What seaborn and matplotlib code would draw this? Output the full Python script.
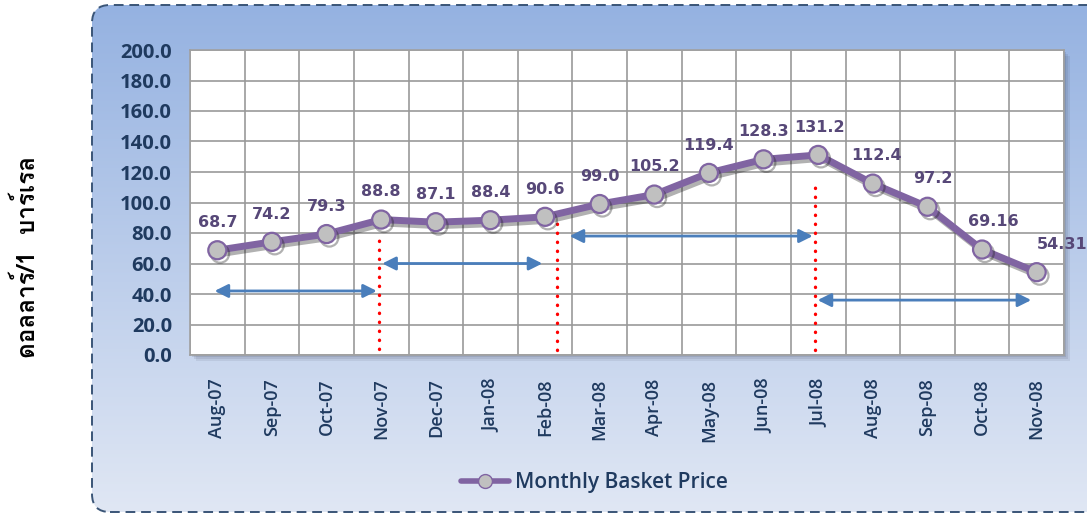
import numpy as np
import pandas as pd
import matplotlib
matplotlib.use("Agg")
import matplotlib.pyplot as plt
import matplotlib.patheffects as pe
from matplotlib import font_manager
from matplotlib.ft2font import FT2Font
from matplotlib.patches import FancyBboxPatch, Rectangle
from matplotlib.lines import Line2D
import seaborn as sns

months = ["Aug-07", "Sep-07", "Oct-07", "Nov-07", "Dec-07", "Jan-08", "Feb-08", "Mar-08",
          "Apr-08", "May-08", "Jun-08", "Jul-08", "Aug-08", "Sep-08", "Oct-08", "Nov-08"]
prices = [68.7, 74.2, 79.3, 88.8, 87.1, 88.4, 90.6, 99.0,
          105.2, 119.4, 128.3, 131.2, 112.4, 97.2, 69.16, 54.31]
price_labels = ["68.7", "74.2", "79.3", "88.8", "87.1", "88.4", "90.6", "99.0",
                "105.2", "119.4", "128.3", "131.2", "112.4", "97.2", "69.16", "54.31"]
label_dx = [0, 0, 0, 0, 0, 0, 0, 0, 0, 0, 0, 1, 3, 4, 8, 18]

# period markers: (x position in category units, y from, y to)
red_lines = [(2.96, 4, 77), (6.22, 3, 92), (10.94, 3, 113)]
# double-headed arrows: (x start, x end, y)
arrows = [(-0.05, 2.92, 42), (3.02, 5.95, 60), (6.45, 10.9, 78), (10.99, 14.9, 36)]

ylabel_text = "ดอลลาร์/1  บาร์เรล"
legend_text = "Monthly Basket Price"


def thai_family():
    for f in font_manager.fontManager.ttflist:
        try:
            if 0x0E14 in FT2Font(f.fname).get_charmap():
                return f.name
        except Exception:
            pass
    return "DejaVu Sans"


sns.set_style("white")
plt.rcParams["font.family"] = ["Open Sans", "DejaVu Sans"]

W, H = 1087, 513
fig = plt.figure(figsize=(W / 100, H / 100), dpi=100)

# background panel with gradient and dashed rounded border
bg = fig.add_axes([0, 0, 1, 1])
bg.set_xlim(0, W)
bg.set_ylim(0, H)
bg.axis("off")
grad = np.linspace(0, 1, 256).reshape(-1, 1)
top = np.array([0x95, 0xb2, 0xe1]) / 255
bot = np.array([0xe0, 0xe7, 0xf4]) / 255
img = top + (bot - top) * grad[..., None]
im = bg.imshow(img, extent=(92, 1120, 1, 508), aspect="auto", origin="upper", zorder=0)
box = FancyBboxPatch((92, 1), 1028, 507, boxstyle="round,pad=0,rounding_size=18",
                     facecolor="none", edgecolor="#3a5577", lw=1.4, ls=(0, (5, 3)), zorder=2)
bg.add_patch(box)
im.set_clip_path(box)

# plot area shadow
x0, x1, y0, y1 = 190, 1064, 513 - 355, 513 - 50
for i, a in enumerate([0.10, 0.12, 0.15]):
    off = 6 - 2 * i
    bg.add_patch(Rectangle((x0 + off, y0 - off), x1 - x0, y1 - y0,
                           facecolor="#404a60", alpha=a, lw=0, zorder=1))

ax = fig.add_axes([x0 / W, y0 / H, (x1 - x0) / W, (y1 - y0) / H])
ax.set_facecolor("white")

df = pd.DataFrame({"month": months, "price": prices})
sns.lineplot(data=df, x="month", y="price", sort=False, ax=ax, color="#8064a2", lw=5,
             marker="o", markersize=13, markerfacecolor="#c0c0c0",
             markeredgecolor="#8064a2", markeredgewidth=1.6, zorder=5,
             path_effects=[pe.SimpleLineShadow(offset=(2, -2.5), shadow_color="#202020", alpha=0.35),
                           pe.Normal()])

ax.set_xlim(-0.5, len(months) - 0.5)
ax.set_ylim(0, 200)
ax.set_yticks(np.arange(0, 201, 20))
ax.set_yticklabels([f"{v:.1f}" for v in np.arange(0, 201, 20)])
ax.set_xticks(np.arange(-0.5, len(months), 1), minor=True)
ax.grid(True, which="major", axis="y", color="#999999", lw=1.2)
ax.grid(True, which="minor", axis="x", color="#999999", lw=1.2)
ax.set_axisbelow(True)
ax.tick_params(axis="both", which="both", length=0)
ax.tick_params(axis="y", pad=13, labelsize=14.5, labelcolor="#1f3a5f")
ax.tick_params(axis="x", pad=17, labelsize=13, labelcolor="#1f3a5f", labelrotation=90)
for t in ax.get_yticklabels():
    t.set_fontweight("bold")
for t in ax.get_xticklabels():
    t.set_fontweight("semibold")
for s in ax.spines.values():
    s.set_color("#a0a0a0")
    s.set_linewidth(1.2)
ax.set_xlabel("")
ax.set_ylabel("")

for i, (v, lab, dx) in enumerate(zip(prices, price_labels, label_dx)):
    ax.annotate(lab, (i, v), xytext=(dx, 20), textcoords="offset points",
                ha="center", va="center", fontsize=11.5, fontweight="bold",
                color="#574878", family="DejaVu Sans", zorder=6)

for x, ya, yb in red_lines:
    ax.plot([x, x], [ya, yb], color="red", lw=2.4, ls=(0, (0.1, 2.6)),
            dash_capstyle="round", zorder=4)

for xa, xb, y in arrows:
    ax.annotate("", xy=(xb, y), xytext=(xa, y),
                arrowprops=dict(arrowstyle="<|-|>", color="#4a7ebb", lw=2,
                                mutation_scale=20, shrinkA=0, shrinkB=0), zorder=4)

handle = Line2D([], [], color="#8064a2", lw=4, marker="o", markersize=10,
                markerfacecolor="#c0c0c0", markeredgecolor="#8064a2")
leg = fig.legend([handle], [legend_text], loc="center", bbox_to_anchor=(0.547, 0.059),
                 frameon=False, handlelength=2.3, handletextpad=0.3,
                 prop={"family": "Open Sans", "weight": "semibold", "size": 15})
for t in leg.get_texts():
    t.set_color("#1f3a5f")

fig.text(27 / W, 1 - 257 / H, ylabel_text, rotation=90, ha="center", va="center",
         fontsize=17.5, fontweight="bold", color="black",
         family=[thai_family(), "DejaVu Sans"])

fig.savefig("out.png", dpi=100)
